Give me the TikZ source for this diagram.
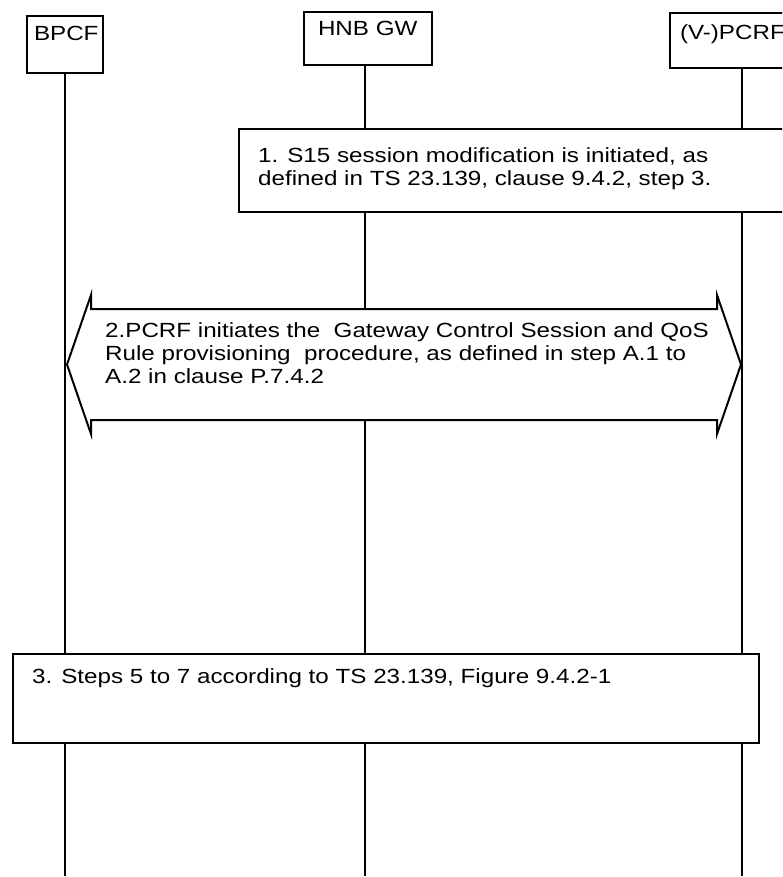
\documentclass[tikz,border=0pt]{standalone}
\usepackage{fontspec}
\setmainfont{Liberation Sans}[FakeStretch=1.18]
\usetikzlibrary{positioning}

\begin{document}
\begin{tikzpicture}[x=1pt, y=1pt,
    font=\fontsize{20.5}{23}\selectfont,
    entity/.style={draw, line width=2pt, fill=white, anchor=north west,
                   inner ysep=0pt, align=left},
    stepbox/.style={draw, line width=2pt, fill=white, anchor=north west},
    steptext/.style={inner sep=0pt, align=left},
    life/.style={line width=2pt},
    dblarrow/.style={draw, line width=2pt, fill=white, line join=miter}
  ]
  \useasboundingbox (0,0) rectangle (782,-877);
  \clip (0,0) rectangle (782,-877);

  % entities
  \node[entity, inner xsep=7pt, text width=62pt,
        text height=24.7pt, text depth=32.3pt] (bpcf) at (26,-15) {BPCF};
  \node[entity, inner xsep=14pt, text width=100pt,
        text height=23.7pt, text depth=29.3pt] (hnb) at (303,-11) {HNB GW};
  \node[entity, inner xsep=10pt, text width=124pt,
        text height=26.7pt, text depth=28.3pt] (pcrf) at (669,-12) {(V-)PCRF};

  % lifelines
  \coordinate (bot) at (0,-876);
  \draw[life] (bpcf.south) -- (bpcf.south |- bot);
  \draw[life] ([xshift=-3.4pt]hnb.south) -- ([xshift=-3.4pt]hnb.south |- bot);
  \draw[life] (pcrf.south) -- (pcrf.south |- bot);

  % step 1
  \node[stepbox, minimum width=570, minimum height=83] (step1) at (238,-128) {};
  \node[steptext, below right=19pt and 20pt of step1.north west] (step1txt)
    {1. S15 session modification is initiated, as\\
     defined in TS 23.139, clause 9.4.2, step 3.};

  % step 2: double arrow between BPCF and PCRF
  \coordinate (a2w) at (67,-364.5);
  \coordinate (a2e) at (741,-364.5);
  \draw[dblarrow] (a2w) -- ++(24,69.5) -- ++(0,-14) -- ++(626,0) -- ++(0,14)
    -- (a2e) -- ++(-24,-69.5) -- ++(0,14) -- ++(-626,0) -- ++(0,-14) -- cycle;
  \node[steptext, anchor=north west] (step2) at (105,-322)
    {2.PCRF initiates the~ Gateway Control Session and QoS\\
     Rule provisioning~ procedure, as defined in step A.1 to\\
     A.2 in clause P.7.4.2};

  % step 3
  \node[stepbox, minimum width=746, minimum height=89] (step3) at (12,-653) {};
  \node[steptext, below right=15pt and 20pt of step3.north west] (step3txt)
    {3. Steps 5 to 7 according to TS 23.139, Figure 9.4.2-1};
\end{tikzpicture}
\end{document}
